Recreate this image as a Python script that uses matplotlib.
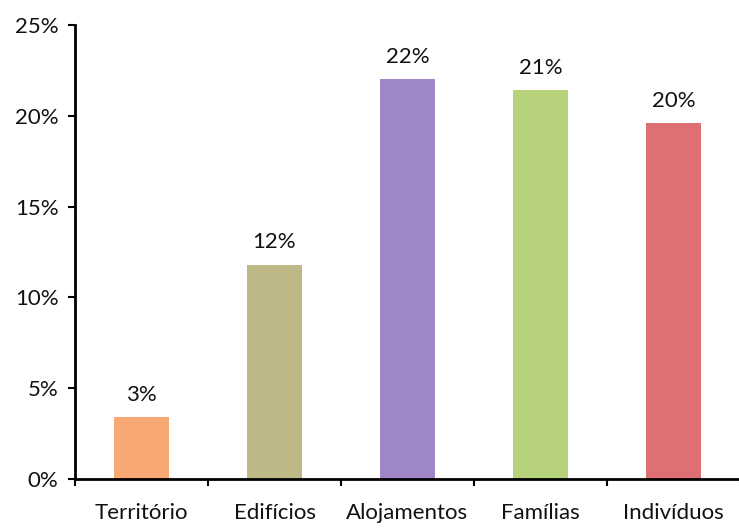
import matplotlib
matplotlib.use("Agg")
import matplotlib.pyplot as plt
from matplotlib.ticker import FixedLocator, FuncFormatter

categories = ["Território", "Edifícios", "Alojamentos", "Famílias", "Indivíduos"]
values = [3.4, 11.8, 22.0, 21.4, 19.6]
colors = ["#F8A973", "#BEB886", "#9F87C5", "#B6D27A", "#DE6F72"]
y_ticks = [0, 5, 10, 15, 20, 25]

plt.rcParams["font.family"] = ["Lato", "DejaVu Sans"]

fig = plt.figure(figsize=(7.39, 5.31), dpi=100)
ax = fig.add_axes([75 / 739, 52 / 531, 665 / 739, 454 / 531])

x = list(range(len(categories)))
ax.bar(x, values, width=0.41, color=colors, zorder=2)

for xi, v in zip(x, values):
    ax.annotate(f"{v:.0f}%", (xi, v), xytext=(0, 9), textcoords="offset points",
                ha="center", va="bottom", fontsize=16, color="#111111")

ax.set_xlim(-0.5, len(categories) - 0.5)
ax.set_ylim(0, 25)
ax.yaxis.set_major_locator(FixedLocator(y_ticks))
ax.yaxis.set_major_formatter(FuncFormatter(lambda v, p: f"{v:.0f}%"))

# category labels centred under bars, tick marks at category boundaries
ax.set_xticks(x)
ax.set_xticklabels(categories)
ax.tick_params(axis="x", length=0, pad=17, labelsize=16, labelcolor="#111111")
ax.set_xticks([i - 0.5 for i in range(len(categories) + 1)], minor=True)
ax.tick_params(axis="x", which="minor", length=5, width=1.5, direction="out")
ax.tick_params(axis="y", length=5, width=1.5, direction="out", labelsize=16,
               pad=7, labelcolor="#111111")

for side in ["top", "right"]:
    ax.spines[side].set_visible(False)
for side in ["left", "bottom"]:
    ax.spines[side].set_linewidth(2)
    ax.spines[side].set_color("black")

fig.savefig("out.png", dpi=100, facecolor="white")
